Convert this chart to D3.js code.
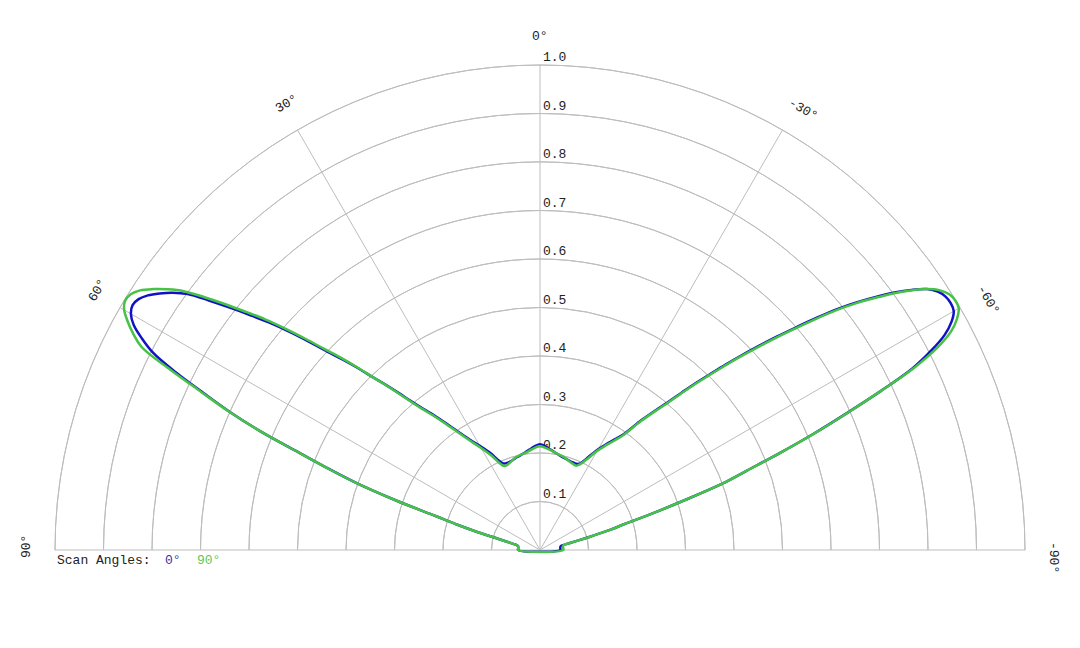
<!DOCTYPE html>
<html>
<head>
<meta charset="utf-8">
<script src="https://cdn.jsdelivr.net/npm/d3@7"></script>
<style>
    html, body { margin: 0; padding: 0; background: #fff; }
    svg text { font-family: "Liberation Mono", "DejaVu Sans Mono", monospace; font-size: 13px; }
</style>
</head>
<body>
<div id="chart"></div>
<script>
// angles in degrees, positive to the left of 0
const angles = [
    90, 85, 80, 78, 77, 76, 75, 74, 73, 72, 71, 70, 69, 68, 67, 66, 65, 64, 63, 62, 61, 60,
    59, 58, 57, 56, 55, 54, 53, 52, 51, 50, 49, 48, 47, 46, 45, 44, 43, 42, 41, 40, 38, 36,
    34, 32, 30, 27, 25, 23, 21, 18, 15, 12, 9, 6, 3, 0,
    -3, -6, -9, -12, -15, -18, -21, -23, -25, -27, -30, -32, -34, -36, -38, -40, -41, -42,
    -43, -44, -45, -46, -47, -48, -49, -50, -51, -52, -53, -54, -55, -56, -57, -58, -59, -60,
    -61, -62, -63, -64, -65, -66, -67, -68, -69, -70, -71, -72, -73, -74, -75, -76, -77, -78,
    -80, -85, -90
];

// scan angle 0°
const scan0 = [
    0.045, 0.045, 0.046, 0.050, 0.058, 0.070, 0.090, 0.133, 0.178, 0.225, 0.315, 0.400, 0.465, 0.535, 0.625, 0.700, 0.765, 0.835, 0.895, 0.930, 0.958, 0.974,
    0.980, 0.976, 0.964, 0.946, 0.925, 0.898, 0.855, 0.812, 0.770, 0.730, 0.687, 0.643, 0.600, 0.565, 0.530, 0.494, 0.465, 0.436, 0.408, 0.386, 0.350, 0.316,
    0.288, 0.265, 0.248, 0.224, 0.205, 0.194, 0.192, 0.193, 0.196, 0.199, 0.203, 0.208, 0.214, 0.218,
    0.214, 0.208, 0.203, 0.199, 0.196, 0.194, 0.193, 0.193, 0.197, 0.212, 0.240, 0.257, 0.275, 0.297, 0.340, 0.383, 0.407, 0.437,
    0.470, 0.503, 0.540, 0.578, 0.617, 0.658, 0.700, 0.745, 0.790, 0.830, 0.867, 0.903, 0.935, 0.962, 0.978, 0.986, 0.988, 0.985,
    0.970, 0.945, 0.905, 0.855, 0.775, 0.690, 0.612, 0.532, 0.457, 0.400, 0.315, 0.244, 0.180, 0.150, 0.110, 0.080, 0.060, 0.050,
    0.043, 0.042, 0.042
];

// scan angle 90°
const scan90 = [
    0.045, 0.045, 0.046, 0.050, 0.058, 0.070, 0.090, 0.133, 0.178, 0.225, 0.315, 0.400, 0.467, 0.537, 0.627, 0.703, 0.770, 0.848, 0.922, 0.950, 0.972, 0.990,
    0.998, 0.995, 0.983, 0.962, 0.937, 0.908, 0.866, 0.823, 0.780, 0.740, 0.696, 0.651, 0.607, 0.570, 0.532, 0.494, 0.463, 0.433, 0.405, 0.382, 0.346, 0.312,
    0.284, 0.261, 0.243, 0.217, 0.198, 0.188, 0.188, 0.192, 0.197, 0.200, 0.202, 0.206, 0.211, 0.214,
    0.211, 0.207, 0.203, 0.200, 0.197, 0.193, 0.190, 0.189, 0.195, 0.208, 0.236, 0.253, 0.271, 0.293, 0.336, 0.379, 0.403, 0.433,
    0.466, 0.499, 0.535, 0.573, 0.612, 0.653, 0.695, 0.740, 0.785, 0.826, 0.863, 0.900, 0.933, 0.962, 0.983, 0.995, 0.999, 0.997,
    0.983, 0.960, 0.920, 0.860, 0.775, 0.692, 0.613, 0.533, 0.458, 0.400, 0.315, 0.244, 0.180, 0.150, 0.110, 0.080, 0.062, 0.052,
    0.048, 0.048, 0.048
];

const ringValues = [0.1, 0.2, 0.3, 0.4, 0.5, 0.6, 0.7, 0.8, 0.9, 1.0];
const spokeAngles = [90, 60, 30, 0, -30, -60, -90];
const series = [
    { label: '0°', values: scan0, color: '#1212c4', text: '#2a3aa8' },
    { label: '90°', values: scan90, color: '#46c246', text: '#5ac85a' }
];

const width = 1080, height = 648;
const cx = 540, cy = 550;
const radius = 485;

const svg = d3.select('#chart').append('svg')
    .attr('width', width)
    .attr('height', height);

const g = svg.append('g').attr('transform', `translate(${cx},${cy})`);

const r = d3.scaleLinear().domain([0, 1]).range([0, radius]);
const toRad = d => -d * Math.PI / 180;

// rings (top half only)
const arc = d3.arc()
    .innerRadius(d => r(d))
    .outerRadius(d => r(d))
    .startAngle(-Math.PI / 2)
    .endAngle(Math.PI / 2);

g.selectAll('.ring')
    .data(ringValues)
    .enter().append('path')
    .attr('class', 'ring')
    .attr('d', arc)
    .attr('fill', 'none')
    .attr('stroke', '#bdbdbd')
    .attr('stroke-width', 1);

// spokes
g.selectAll('.spoke')
    .data(spokeAngles)
    .enter().append('line')
    .attr('class', 'spoke')
    .attr('x1', 0)
    .attr('y1', 0)
    .attr('x2', d => r(1) * Math.sin(toRad(d)))
    .attr('y2', d => -r(1) * Math.cos(toRad(d)))
    .attr('stroke', '#bdbdbd')
    .attr('stroke-width', 1);

// radial tick labels
g.selectAll('.rlabel')
    .data(ringValues)
    .enter().append('text')
    .attr('class', 'rlabel')
    .attr('x', 3)
    .attr('y', d => -r(d) - 4)
    .attr('fill', '#222')
    .text(d => d3.format('.1f')(d));

// angle labels (start-anchored a little before the spoke end)
const labelR = r(1.06);
g.selectAll('.alabel')
    .data(spokeAngles)
    .enter().append('text')
    .attr('class', 'alabel')
    .attr('transform', d => {
        const x = labelR * Math.sin(toRad(d));
        const y = -labelR * Math.cos(toRad(d));
        return `translate(${x},${y}) rotate(${-d})`;
    })
    .attr('x', -8)
    .attr('dy', '0.35em')
    .attr('fill', '#222')
    .text(d => d + '°');

// curves
const line = d3.lineRadial()
    .angle(d => toRad(d[0]))
    .radius(d => r(d[1]))
    .curve(d3.curveCatmullRomClosed.alpha(0.5));

series.forEach(s => {
    g.append('path')
        .datum(angles.map((a, i) => [a, s.values[i]]))
        .attr('d', line)
        .attr('fill', 'none')
        .attr('stroke', s.color)
        .attr('stroke-width', 2.5)
        .attr('stroke-linejoin', 'round');
});

// legend
const legend = svg.append('g').attr('transform', 'translate(57,564)');
legend.append('text').attr('x', 0).attr('y', 0).attr('fill', '#222').text('Scan Angles:');
legend.append('text').attr('x', 108).attr('y', 0).attr('fill', series[0].text).text(series[0].label);
legend.append('text').attr('x', 140).attr('y', 0).attr('fill', series[1].text).text(series[1].label);
</script>
</body>
</html>
